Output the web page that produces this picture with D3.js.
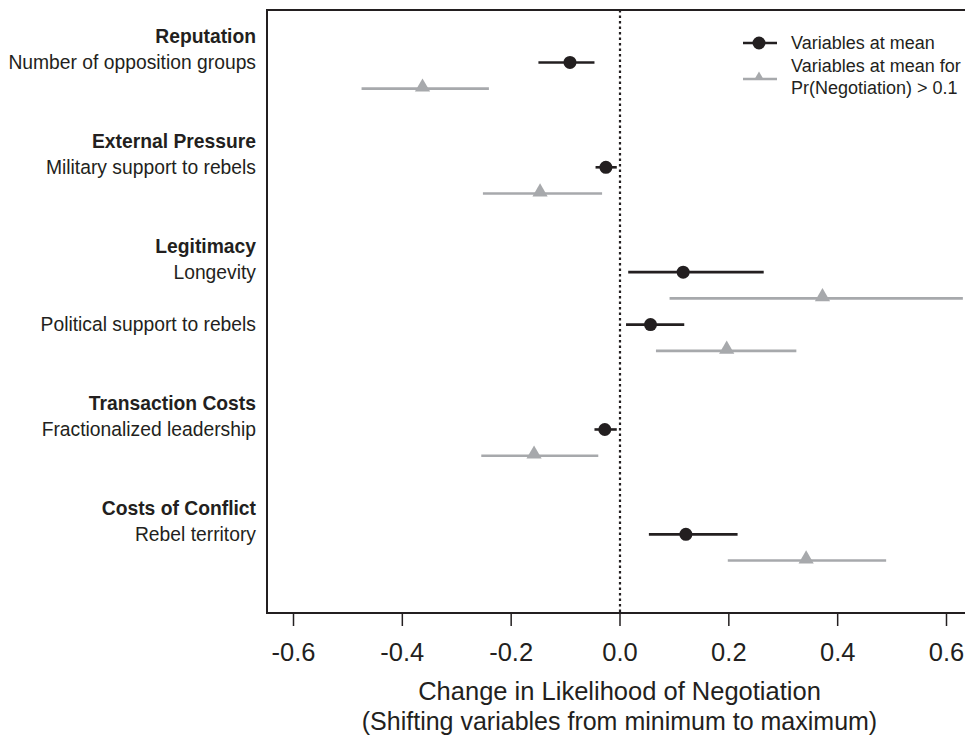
<!DOCTYPE html>
<html>
<meta charset="utf-8">
<style>
body { margin: 0; background: #fff; }
svg { font-family: "Liberation Sans", Arial, Helvetica, sans-serif; }
.lab { font-size: 19.3px; fill: #231f20; }
.grp { font-weight: bold; }
.tick text { font-size: 25.5px; fill: #231f20; }
.tick line { stroke: #231f20; stroke-width: 1.5px; }
.domain { display: none; }
</style>
<body>
<svg id="chart" width="965" height="737"></svg>
<script src="https://d3js.org/d3.v7.min.js"></script>
<script>
// variables, in the order they are drawn, and the group each one belongs to
var variables = ["Number of opposition groups", "Military support to rebels", "Longevity",
                 "Political support to rebels", "Fractionalized leadership", "Rebel territory"];
var groupOf = ["Reputation", "External Pressure", "Legitimacy", "Legitimacy",
               "Transaction Costs", "Costs of Conflict"];

// variables at mean (black)
var meanEst = [-0.091, -0.025, 0.117, 0.057, -0.027, 0.122];
var meanLo  = [-0.149, -0.044, 0.016, 0.012, -0.046, 0.054];
var meanHi  = [-0.046, -0.005, 0.265, 0.119, -0.005, 0.217];

// variables at mean for Pr(Negotiation) > 0.1 (grey)
var subEst = [-0.362, -0.146, 0.373, 0.197, -0.157, 0.343];
var subLo  = [-0.474, -0.251, 0.092, 0.067, -0.254, 0.199];
var subHi  = [-0.240, -0.032, 0.631, 0.325, -0.039, 0.490];

var xTicks = [-0.6, -0.4, -0.2, 0, 0.2, 0.4, 0.6];
var legendLabels = [["Variables at mean"], ["Variables at mean for", "Pr(Negotiation) > 0.1"]];

var dark = "#231f20", grey = "#a7a9ac";

var svg = d3.select("#chart");
var pLeft = 267, pRight = 980, pTop = 10, pBottom = 613;

var x = d3.scaleLinear().domain([-0.6, 0.6]).range([293, 946]);

// work out row slots: group header, then two rows per variable, one blank row between groups
var slots = [], headers = [], slot = 0, lastGroup = null;
variables.forEach(function(v, i) {
  if (groupOf[i] !== lastGroup) {
    if (lastGroup !== null) slot++;
    headers.push({label: groupOf[i], slot: slot});
    slot++;
    lastGroup = groupOf[i];
  }
  slots.push(slot);
  slot += 2;
});
var y = d3.scaleLinear().domain([-1, slot + 1]).range([pTop, pBottom]);

var rows = variables.map(function(v, i) {
  return {label: v, s: slots[i], m: meanEst[i], mlo: meanLo[i], mhi: meanHi[i],
          g: subEst[i], glo: subLo[i], ghi: subHi[i]};
});

// frame
svg.append("path")
  .attr("d", "M" + pRight + "," + pTop + "H" + pLeft + "V" + pBottom + "H" + pRight)
  .attr("fill", "none").attr("stroke", dark).attr("stroke-width", 2);

// zero line
var x0 = Math.round(x(0));
svg.append("line")
  .attr("x1", x0).attr("x2", x0).attr("y1", pTop).attr("y2", pBottom)
  .attr("stroke", dark).attr("stroke-width", 2.2).attr("stroke-dasharray", "2.5,3");

// x axis
svg.append("g")
  .attr("transform", "translate(0," + pBottom + ")")
  .call(d3.axisBottom(x).tickValues(xTicks).tickSize(13).tickPadding(17)
          .tickFormat(function(d) { return d.toFixed(1); }));

svg.append("text").attr("class", "lab")
  .attr("x", x(0)).attr("y", 700).attr("text-anchor", "middle")
  .style("font-size", "25.5px")
  .text("Change in Likelihood of Negotiation");
svg.append("text").attr("class", "lab")
  .attr("x", x(0)).attr("y", 730).attr("text-anchor", "middle")
  .style("font-size", "25px")
  .text("(Shifting variables from minimum to maximum)");

// y labels
svg.selectAll(".grp").data(headers).enter().append("text")
  .attr("class", "lab grp")
  .attr("x", 256).attr("y", function(d) { return y(d.slot); })
  .attr("dy", "0.35em").attr("text-anchor", "end")
  .text(function(d) { return d.label; });

svg.selectAll(".var").data(rows).enter().append("text")
  .attr("class", "lab var")
  .attr("x", 256).attr("y", function(d) { return y(d.s); })
  .attr("dy", "0.35em").attr("text-anchor", "end")
  .text(function(d) { return d.label; });

var tri = d3.symbol().type(d3.symbolTriangle).size(100);

// grey estimates
svg.selectAll(".gci").data(rows).enter().append("line")
  .attr("x1", function(d) { return x(d.glo); }).attr("x2", function(d) { return x(d.ghi); })
  .attr("y1", function(d) { return y(d.s + 1); }).attr("y2", function(d) { return y(d.s + 1); })
  .attr("stroke", grey).attr("stroke-width", 2.6);
svg.selectAll(".gpt").data(rows).enter().append("path")
  .attr("d", tri)
  .attr("transform", function(d) { return "translate(" + x(d.g) + "," + (y(d.s + 1) - 1.5) + ")"; })
  .attr("fill", grey);

// black estimates
svg.selectAll(".mci").data(rows).enter().append("line")
  .attr("x1", function(d) { return x(d.mlo); }).attr("x2", function(d) { return x(d.mhi); })
  .attr("y1", function(d) { return y(d.s); }).attr("y2", function(d) { return y(d.s); })
  .attr("stroke", dark).attr("stroke-width", 2.6);
svg.selectAll(".mpt").data(rows).enter().append("circle")
  .attr("cx", function(d) { return x(d.m); }).attr("cy", function(d) { return y(d.s); })
  .attr("r", 6.5).attr("fill", dark);

// legend
var leg = svg.append("g");
leg.append("line").attr("x1", 743).attr("x2", 777).attr("y1", 43).attr("y2", 43)
  .attr("stroke", dark).attr("stroke-width", 2.6);
leg.append("circle").attr("cx", 759).attr("cy", 43).attr("r", 6.5).attr("fill", dark);
leg.append("line").attr("x1", 743).attr("x2", 777).attr("y1", 79).attr("y2", 79)
  .attr("stroke", grey).attr("stroke-width", 2.6);
leg.append("path").attr("d", d3.symbol().type(d3.symbolTriangle).size(40))
  .attr("transform", "translate(759,77)").attr("fill", grey);

legendLabels.forEach(function(lines, i) {
  var t = leg.append("text").attr("class", "lab").style("font-size", "18px")
    .attr("x", 791).attr("y", i === 0 ? 43 : 66).attr("dy", "0.35em");
  lines.forEach(function(s, j) {
    t.append("tspan").attr("x", 791).attr("dy", j === 0 ? "0.35em" : "22px").text(s);
  });
});
</script>
</body>
</html>
